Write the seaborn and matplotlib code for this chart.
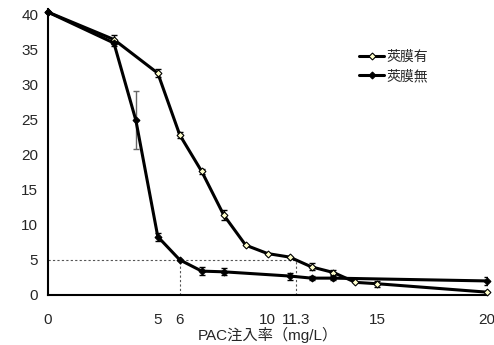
import pandas as pd
import numpy as np
import matplotlib
matplotlib.use("Agg")
import matplotlib.pyplot as plt
import seaborn as sns

sns.set_style("white")
plt.rcParams["font.family"] = ["Liberation Sans", "Noto Sans CJK JP"]

# --- data ---
x_with = [0, 3, 5, 6, 7, 8, 9, 10, 11, 12, 13, 14, 15, 20]
y_with = [40.3, 36.4, 31.6, 22.8, 17.6, 11.4, 7.1, 5.9, 5.4, 4.0, 3.2, 1.8, 1.6, 0.4]
e_with = [0, 0.6, 0.6, 0.4, 0.3, 0.7, 0, 0, 0, 0.5, 0.4, 0, 0.4, 0]

x_without = [0, 3, 4, 5, 6, 7, 8, 11, 12, 13, 20]
y_without = [40.3, 35.9, 24.9, 8.3, 5.0, 3.4, 3.3, 2.7, 2.4, 2.4, 2.0]
e_without = [0, 0.4, 4.1, 0.6, 0, 0.6, 0.5, 0.5, 0.3, 0.3, 0.6]

xticks = [0, 5, 6, 10, 11.3, 15, 20]
xticklabels = ["0", "5", "6", "10", "11.3", "15", "20"]
yticks = [0, 5, 10, 15, 20, 25, 30, 35, 40]

df_with = pd.DataFrame({"x": x_with, "y": y_with, "err": e_with})
df_without = pd.DataFrame({"x": x_without, "y": y_without, "err": e_without})

fig = plt.figure(figsize=(4.94, 3.45), dpi=100)
ax = fig.add_axes([0.0972, 0.145, 0.889, 0.83])

# dotted guide lines at 5 mg/L residual
ax.plot([0, 11.3], [5, 5], color="#555555", ls=(0, (2, 2)), lw=0.8, zorder=1)
ax.plot([6, 6], [0, 5], color="#555555", ls=(0, (2, 2)), lw=0.8, zorder=1)
ax.plot([11.3, 11.3], [0, 5], color="#555555", ls=(0, (2, 2)), lw=0.8, zorder=1)

for d, fc, lab in [(df_with, "#FFFFCC", "莢膜有"), (df_without, "black", "莢膜無")]:
    m = (d["err"] > 0) & (d["x"] != 4)
    ax.errorbar(d["x"][m], d["y"][m], yerr=d["err"][m], fmt="none",
                ecolor="black", elinewidth=1.0,
                capsize=2.5, capthick=1.0, zorder=2)
    sns.lineplot(data=d, x="x", y="y", ax=ax, color="black", lw=2.2,
                 marker="D", markersize=3.5, markerfacecolor=fc,
                 markeredgecolor="black", markeredgewidth=0.8,
                 label=lab, zorder=3, clip_on=False)

# the big error bar at x=4 is drawn gray in the reference
big = df_without[df_without["x"] == 4]
ax.errorbar(big["x"], big["y"], yerr=big["err"], fmt="none", ecolor="#666666",
            elinewidth=1.0, capsize=2.5, capthick=1.0, zorder=2)

ax.set_xlim(0, 20)
ax.set_ylim(0, 40.8)
ax.set_xticks(xticks)
ax.set_xticklabels(xticklabels)
ax.set_yticks(yticks)
ax.tick_params(axis="x", direction="in", length=5, width=1.2, pad=13, labelsize=11)
ax.tick_params(axis="y", length=0, pad=7, labelsize=11)
ax.set_xlabel("PAC注入率（mg/L）", fontsize=11, labelpad=0)
ax.set_ylabel("")
sns.despine(ax=ax)
for s in ["left", "bottom"]:
    ax.spines[s].set_linewidth(1.5)
    ax.spines[s].set_color("black")

ax.legend(loc="upper left", bbox_to_anchor=(0.68, 0.90), frameon=False,
          fontsize=10, handlelength=1.8, handletextpad=0.2, labelspacing=0.4)

fig.savefig("out.png", dpi=100)
